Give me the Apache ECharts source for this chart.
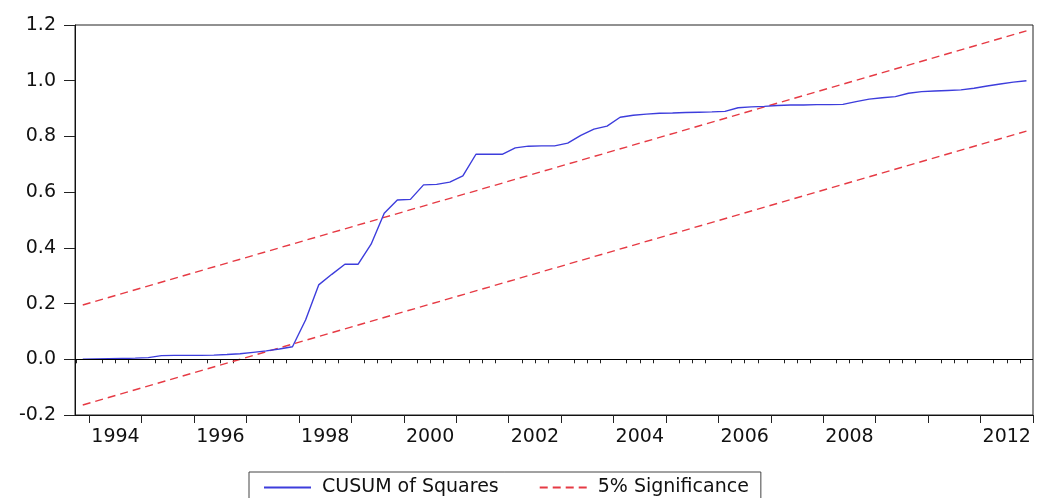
<!DOCTYPE html>
<html>
<head>
<meta charset="utf-8">
<script src="https://cdn.jsdelivr.net/npm/echarts@6/dist/echarts.min.js"></script>
<style>
html,body{margin:0;padding:0;background:#fff;}
#chart{width:1037px;height:498px;}
</style>
</head>
<body>
<div id="chart"></div>
<script>
// ---- data ----
const quarters = [
 '1993Q4',
 '1994Q1','1994Q2','1994Q3','1994Q4',
 '1995Q1','1995Q2','1995Q3','1995Q4',
 '1996Q1','1996Q2','1996Q3','1996Q4',
 '1997Q1','1997Q2','1997Q3','1997Q4',
 '1998Q1','1998Q2','1998Q3','1998Q4',
 '1999Q1','1999Q2','1999Q3','1999Q4',
 '2000Q1','2000Q2','2000Q3','2000Q4',
 '2001Q1','2001Q2','2001Q3','2001Q4',
 '2002Q1','2002Q2','2002Q3','2002Q4',
 '2003Q1','2003Q2','2003Q3','2003Q4',
 '2004Q1','2004Q2','2004Q3','2004Q4',
 '2005Q1','2005Q2','2005Q3','2005Q4',
 '2006Q1','2006Q2','2006Q3','2006Q4',
 '2007Q1','2007Q2','2007Q3','2007Q4',
 '2008Q1','2008Q2','2008Q3','2008Q4',
 '2009Q1','2009Q2','2009Q3','2009Q4',
 '2010Q1','2010Q2','2010Q3','2010Q4',
 '2011Q1','2011Q2','2011Q3','2011Q4'
];
const cusumSquares = [
 0.000,
 0.001,0.002,0.003,0.004,
 0.006,0.013,0.014,0.014,
 0.014,0.015,0.017,0.020,
 0.025,0.030,0.037,0.045,
 0.141,0.267,0.305,0.341,
 0.341,0.413,0.524,0.572,
 0.574,0.626,0.628,0.636,
 0.658,0.736,0.736,0.736,
 0.759,0.765,0.766,0.766,
 0.776,0.804,0.826,0.837,
 0.869,0.876,0.880,0.883,
 0.884,0.886,0.887,0.888,
 0.890,0.903,0.906,0.908,
 0.911,0.913,0.913,0.914,
 0.914,0.915,0.925,0.934,
 0.939,0.943,0.955,0.961,
 0.963,0.965,0.967,0.973,
 0.981,0.988,0.995,1.000
];
const boundQuarters = ['1993Q4','2011Q4'];
const upperBound = [0.195, 1.179];
const lowerBound = [-0.164, 0.819];
const xTickLabels = ['1994','1996','1998','2000','2002','2004','2006','2008','2012'];
const yTickLabels = ['-0.2','0.0','0.2','0.4','0.6','0.8','1.0','1.2'];
const seriesNames = ['CUSUM of Squares','5% Significance'];

// ---- helpers ----
function qPos(q){ const y=parseInt(q.slice(0,4),10); const n=parseInt(q.slice(5),10); return y+(n-0.5)/4; }
const X_MIN = 1993.727, X_MAX = 2012;
const yearTicks = []; for(let y=1994;y<=2012;y++) yearTicks.push(y);
const quarterTicks = []; for(let y=1993;y<2012;y++){ for(let k=1;k<4;k++){ const v=y+k/4; if(v>X_MIN) quarterTicks.push(v);} }
const labelPos = xTickLabels.map(t=>Math.min(parseInt(t,10)+0.5, X_MAX-0.5));
const labelMap = {}; labelPos.forEach((p,i)=>{labelMap[p.toFixed(2)]=xTickLabels[i];});

const FONT = 'DejaVu Sans';
const BLUE = '#3d3ddc';
const RED = '#e63a44';
const chart = echarts.init(document.getElementById('chart'));
chart.setOption({
  animation:false,
  backgroundColor:'#fff',
  grid:{left:75,right:4,top:25,bottom:83,show:true,borderColor:'#222',borderWidth:1,containLabel:false,outerBoundsMode:'none'},
  xAxis:[{
    type:'value',min:X_MIN,max:X_MAX,
    axisLine:{show:true,onZero:false,lineStyle:{color:'#111',width:1}},
    axisTick:{show:true,inside:false,length:8,customValues:yearTicks,lineStyle:{color:'#222'}},
    axisLabel:{show:true,customValues:labelPos,margin:13,fontFamily:FONT,fontSize:19,color:'#111',
      formatter:function(v){return labelMap[Number(v).toFixed(2)]||'';}},
    splitLine:{show:false}
  },{
    type:'value',min:X_MIN,max:X_MAX,position:'bottom',
    axisLine:{show:false},
    axisTick:{show:true,inside:false,length:4,customValues:quarterTicks,lineStyle:{color:'#222'}},
    axisLabel:{show:false},
    splitLine:{show:false}
  }],
  yAxis:{
    type:'value',min:-0.2,max:1.2,interval:0.2,
    axisLine:{show:true,onZero:false,lineStyle:{color:'#111',width:1}},
    axisTick:{show:true,inside:false,length:11,lineStyle:{color:'#222'}},
    axisLabel:{margin:19,fontFamily:FONT,fontSize:19,color:'#111',
      formatter:function(v){const s=v.toFixed(1); return s==='-0.0'?'0.0':s;}},
    splitLine:{show:false}
  },
  legend:{
    data:[
      {name:seriesNames[0],textStyle:{width:214}},
      {name:seriesNames[1],textStyle:{width:186}}
    ],
    left:249,top:472,
    orient:'horizontal',
    itemWidth:47,itemHeight:10,itemGap:40,
    padding:[6,12,12,14],
    borderColor:'#444',borderWidth:1,
    itemStyle:{opacity:0,borderWidth:0},
    textStyle:{fontFamily:FONT,fontSize:19,color:'#111',padding:[0,0,0,6]}
  },
  series:[{
    name:seriesNames[0],type:'line',symbol:'none',
    data:quarters.map((q,i)=>[qPos(q),cusumSquares[i]]),
    lineStyle:{color:BLUE,width:1.4},itemStyle:{color:BLUE},
    z:3,
    markLine:{silent:true,symbol:['none','none'],label:{show:false},
      lineStyle:{color:'#000',type:'solid',width:1},data:[{yAxis:0}]}
  },{
    name:seriesNames[1],type:'line',symbol:'none',
    data:boundQuarters.map((q,i)=>[qPos(q),upperBound[i]]),
    lineStyle:{color:RED,width:1.4,type:[8,5]},itemStyle:{color:RED},z:2
  },{
    name:seriesNames[1],type:'line',symbol:'none',
    data:boundQuarters.map((q,i)=>[qPos(q),lowerBound[i]]),
    lineStyle:{color:RED,width:1.4,type:[8,5]},itemStyle:{color:RED},z:2
  }]
});
</script>
</body>
</html>
